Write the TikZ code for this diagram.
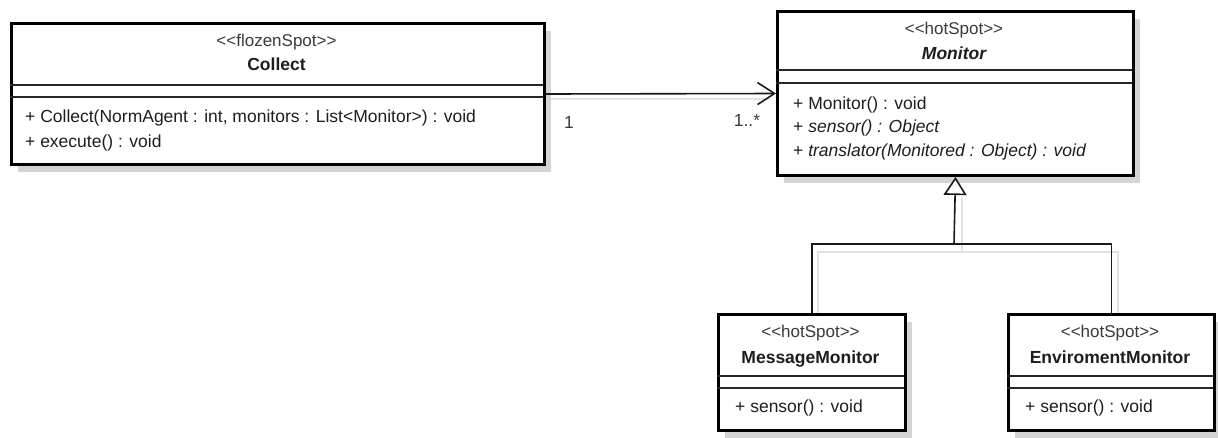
\documentclass[tikz,border=0pt]{standalone}
\usepackage{fontspec}
\setmainfont{Liberation Sans}
\usetikzlibrary{arrows.meta,shadows}
\definecolor{txt}{HTML}{1E1E1E}
\definecolor{sttxt}{HTML}{3A3A3A}
\definecolor{shadowc}{HTML}{D4D4D4}
\definecolor{connshc}{HTML}{E2E2E2}
\newcommand\stopen{<\kern0pt<}
\newcommand\stclose{>\kern0pt>}
\begin{document}
\begin{tikzpicture}[x=1pt,y=-1pt,
  classbox/.style={draw=black, line width=3pt, fill=white, rectangle, anchor=north west, inner sep=0pt,
    drop shadow={shadow xshift=6pt, shadow yshift=-7pt, fill=shadowc, opacity=1}},
  sepline/.style={line width=1.8pt, draw=black!85},
  sttext/.style={font=\fontsize{17}{20}\selectfont, text=sttxt, inner sep=0pt, text height=12.5pt, text depth=3.5pt},
  cname/.style={font=\fontsize{17.5}{20}\selectfont\bfseries, text=txt, inner sep=0pt, text height=12.5pt, text depth=3.5pt},
  member/.style={font=\fontsize{17.5}{20}\selectfont, text=txt, anchor=west, inner sep=0pt, text height=12.5pt, text depth=3.5pt},
  mult/.style={font=\fontsize{17.5}{20}\selectfont, text=sttxt, inner sep=0pt, text height=12.5pt, text depth=3.5pt},
  conn/.style={line width=1.6pt, draw=black!90},
  connshadow/.style={line width=1.2pt, draw=connshc}]
\useasboundingbox (0,0) rectangle (1218,437);

% connector shadows
\draw[connshadow] (548,99) -- (770,99);
\draw[connshadow] (962,198) -- (962,252);
\draw[connshadow] (818,313) -- (818,252) -- (1118,252) -- (1118,313);

% Collect
\node[classbox, minimum width=533pt, minimum height=141pt] (collect) at (10,22) {};
\draw[sepline] (10,85) -- (543,85);
\draw[sepline] (10,97) -- (543,97);
\node[sttext] (collectst) at (276.5,42) {\stopen flozenSpot\stclose};
\node[cname] (collectnm) at (276.5,66) {Collect};
\node[member] (collectm1) at (25,118) {+ Collect(NormAgent : int, monitors : List<Monitor>) : void};
\node[member] (collectm2) at (25,143) {+ execute() : void};

% Monitor
\node[classbox, minimum width=356pt, minimum height=164pt] (monitor) at (776,10) {};
\draw[sepline] (776,70) -- (1132,70);
\draw[sepline] (776,83) -- (1132,83);
\node[sttext] (monitorst) at (954,30) {\stopen hotSpot\stclose};
\node[cname, font=\fontsize{17.5}{20}\selectfont\bfseries\itshape] (monitornm) at (954,55) {Monitor};
\node[member] (monitorm1) at (793,105) {+ Monitor() : void};
\node[member] (monitorm2) at (793,128) {+ \textit{sensor() : Object}};
\node[member] (monitorm3) at (793,152) {+ \textit{translator(Monitored : Object) : void}};

% MessageMonitor
\node[classbox, minimum width=187pt, minimum height=116pt] (mm) at (717,313) {};
\draw[sepline] (717,376) -- (904,376);
\draw[sepline] (717,388) -- (904,388);
\node[sttext] (mmst) at (810.5,333) {\stopen hotSpot\stclose};
\node[cname] (mmnm) at (810.5,359) {MessageMonitor};
\node[member] (mmm1) at (735,408) {+ sensor() : void};

% EnviromentMonitor
\node[classbox, minimum width=206pt, minimum height=116pt] (em) at (1007,313) {};
\draw[sepline] (1007,376) -- (1213,376);
\draw[sepline] (1007,388) -- (1213,388);
\node[sttext] (emst) at (1110,333) {\stopen hotSpot\stclose};
\node[cname] (emnm) at (1110,359) {EnviromentMonitor};
\node[member] (emm1) at (1025,408) {+ sensor() : void};

% Association
\draw[conn, -{Straight Barb[length=17pt, width=22pt, line width=1.6pt]}] (collect.east) -- (monitor.west);
\node[mult] (m1) at (569,124) {1};
\node[mult] (m2) at (747,122) {1..*};

% Generalization
\coordinate (join) at (954,244);
\draw[conn] (mm.north) |- (join) -| (em.north);
\draw[conn, -{Triangle[open, length=18pt, width=23pt, fill=white]}] (join) -- (monitor.south);
\end{tikzpicture}
\end{document}
